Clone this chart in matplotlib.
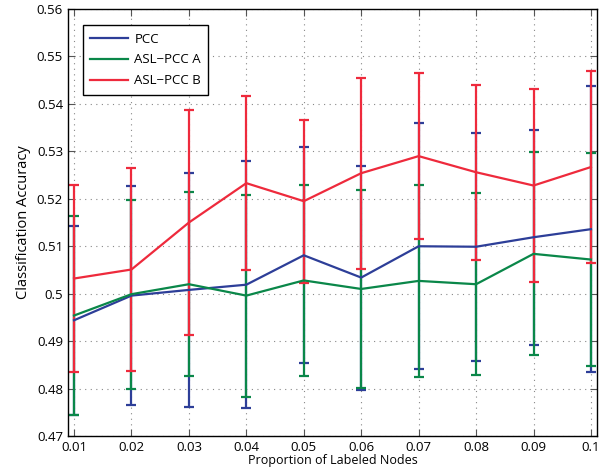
import matplotlib
matplotlib.use("Agg")
import matplotlib.pyplot as plt
from matplotlib.lines import Line2D
import numpy as np

# proportion of labeled nodes
props = [0.01, 0.02, 0.03, 0.04, 0.05, 0.06, 0.07, 0.08, 0.09, 0.1]

# mean accuracy
pcc_mean = [0.4944, 0.4996, 0.5008, 0.5019, 0.5081, 0.5034, 0.5100, 0.5099, 0.5119, 0.5136]
asl_a_mean = [0.4954, 0.4999, 0.5020, 0.4996, 0.5028, 0.5010, 0.5027, 0.5020, 0.5084, 0.5072]
asl_b_mean = [0.5032, 0.5051, 0.5150, 0.5233, 0.5195, 0.5254, 0.5290, 0.5256, 0.5228, 0.5267]

# error bar half widths
pcc_err = [0.0199, 0.0230, 0.0246, 0.0260, 0.0228, 0.0236, 0.0259, 0.0240, 0.0227, 0.0302]
asl_a_err = [0.0210, 0.0199, 0.0194, 0.0213, 0.0202, 0.0208, 0.0203, 0.0192, 0.0214, 0.0225]
asl_b_err = [0.0197, 0.0213, 0.0237, 0.0183, 0.0172, 0.0201, 0.0175, 0.0184, 0.0204, 0.0202]

labels = ["PCC", "ASL\u2212PCC A", "ASL\u2212PCC B"]
colors = ["#2d3e98", "#0a8749", "#ee2a3c"]

plt.rcParams["font.family"] = ["Open Sans", "DejaVu Sans"]

fig = plt.figure(figsize=(6.07, 4.75), dpi=100)
ax = fig.add_axes([0.112, 0.082, 0.8715, 0.899])

series = [(pcc_mean, pcc_err), (asl_a_mean, asl_a_err), (asl_b_mean, asl_b_err)]
for (m, e), col in zip(series, colors):
    ax.errorbar(props, m, yerr=e, color=col, lw=1.6, elinewidth=1.6,
                capsize=3.8, capthick=1.6)

ax.set_xlim(0.00895, 0.10105)
ax.set_ylim(0.47, 0.56)
ax.set_xticks(props)
ax.set_xticklabels(["0.01", "0.02", "0.03", "0.04", "0.05", "0.06", "0.07", "0.08", "0.09", "0.1"])
yt = np.round(np.arange(0.47, 0.5601, 0.01), 2)
ax.set_yticks(yt)
ax.set_yticklabels([("%.2f" % v).rstrip("0") for v in yt])

ax.grid(True, linestyle=(0, (1, 4)), color="#888888", lw=0.8)
ax.tick_params(direction="in", top=True, right=True, length=5, labelsize=9.5,
               color="#555555")
for s in ax.spines.values():
    s.set_linewidth(1.0)

ax.set_xlabel("Proportion of Labeled Nodes", fontsize=9, labelpad=0)
ax.set_ylabel("Classification Accuracy", fontsize=10.5, labelpad=4)

handles = [Line2D([], [], color=c, lw=1.6) for c in colors]
leg = ax.legend(handles, labels, loc="upper left", bbox_to_anchor=(0.028, 0.962),
                fontsize=9.5, fancybox=False, framealpha=1, edgecolor="black",
                handlelength=2.9, handletextpad=0.45, borderpad=0.55,
                labelspacing=0.6, borderaxespad=0)
leg.get_frame().set_linewidth(1.0)

fig.savefig("out.png", dpi=100)
